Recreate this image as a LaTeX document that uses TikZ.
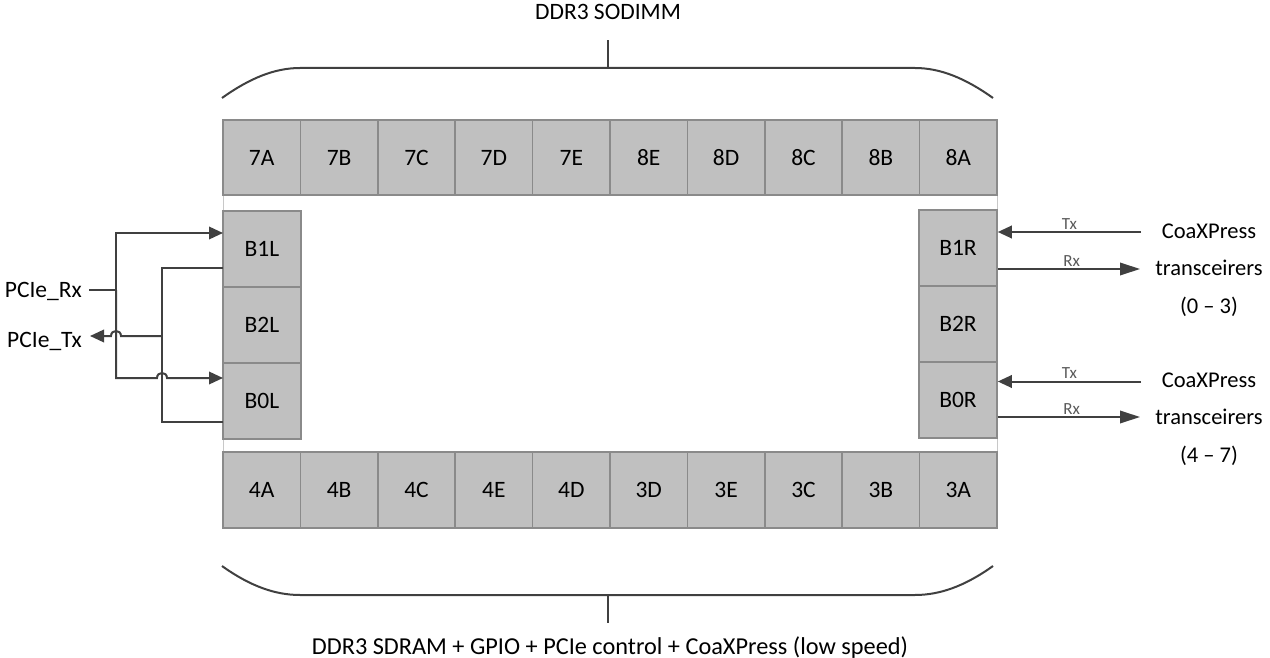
\documentclass[tikz,border=0pt]{standalone}
\usepackage{fontspec}
\setmainfont{Carlito}
\usetikzlibrary{arrows.meta,calc}
\definecolor{boxfill}{HTML}{C0C0C0}
\definecolor{boxline}{HTML}{8A8A8A}
\definecolor{wirecol}{HTML}{404040}
\definecolor{framecol}{HTML}{C8C8C8}
\definecolor{lblcol}{HTML}{595959}
\begin{document}
\begin{tikzpicture}[x=1pt,y=-1pt,
  every node/.style={font=\fontsize{23.5}{28}\selectfont, text=black},
  bank/.style={draw=boxline, fill=boxfill, line width=1.6pt, minimum width=77.4pt, minimum height=75.5pt, inner sep=0pt},
  sidebank/.style={bank, minimum width=78pt, minimum height=76pt},
  wire/.style={draw=wirecol, line width=2pt},
  arr/.style={wire, -{Triangle[length=14pt,width=12.5pt]}},
  longarr/.style={wire, -{Triangle[length=20pt,width=12.5pt]}},
  small/.style={font=\fontsize{17}{19}\selectfont, text=lblcol, inner sep=0pt},
  lbl/.style={inner sep=0pt},
  cxp/.style={align=center, inner sep=0pt, font=\fontsize{22.5}{37.5}\selectfont}
]
\useasboundingbox (0,0) rectangle (1270,658);
% frame
\draw[framecol, line width=1pt, fill=white] (223,120) rectangle (997,528);
% top row
\foreach \l [count=\i from 0] in {7A,7B,7C,7D,7E,8E,8D,8C,8B,8A}
  \node[bank] (t\l) at ({223+77.4*(\i+0.5)},157.5) {\l};
% bottom row
\foreach \l [count=\i from 0] in {4A,4B,4C,4E,4D,3D,3E,3C,3B,3A}
  \node[bank] (b\l) at ({223+77.4*(\i+0.5)},490) {\l};
% side columns
\node[sidebank] (b1l) at (262,249) {B1L};
\node[sidebank] (b2l) at (262,325) {B2L};
\node[sidebank] (b0l) at (262,401) {B0L};
\node[sidebank] (b1r) at (958,248) {B1R};
\node[sidebank] (b2r) at (958,324) {B2R};
\node[sidebank] (b0r) at (958,400) {B0R};
% braces and captions
\node[lbl, anchor=base] (topcap) at (608,20) {DDR3 SODIMM};
\node[lbl, anchor=base, font=\fontsize{24.3}{28}\selectfont] (botcap) at (610,654) {DDR3 SDRAM + GPIO + PCIe control + CoaXPress (low speed)};
\coordinate (topmid) at (608,68);
\coordinate (topend) at (608,40);
\coordinate (botmid) at (608,595);
\coordinate (botend) at (608,623);
\draw[wire] (222,98) .. controls (250,78) and (275,68) .. (300,68) -- (915,68) .. controls (940,68) and (965,78) .. (993,98);
\draw[wire] (topmid) -- (topend);
\draw[wire] (222,566) .. controls (250,586) and (275,595) .. (300,595) -- (915,595) .. controls (940,595) and (965,586) .. (993,566);
\draw[wire] (botmid) -- (botend);
% left side PCIe
\node[lbl, anchor=base east] (rx) at (82,297.5) {PCIe\_Rx};
\node[lbl, anchor=base east] (tx) at (82,347.5) {PCIe\_Tx};
\coordinate (jr) at (116,290);
\coordinate (b1in) at (223,233);
\coordinate (b0in) at (223,378);
\coordinate (b1out) at (223,268);
\coordinate (b0out) at (223,422);
\coordinate (jt) at (162,336);
\draw[wire] ($(jr -| rx.east)+(7,0)$) -- (jr);
\draw[arr] (jr) |- (b1in);
\draw[arr] (jr) -- (116,378) -- (157,378) .. controls (157,371.3) and (167,371.3) .. (167,378) -- (b0in);
\draw[wire] (b1out) -| (jt) |- (b0out);
\draw[arr] (jt) -- (121,336) .. controls (121,329.3) and (111,329.3) .. (111,336) -- ($(jt -| tx.east)+(8,0)$);
% right side CoaXPress
\node[cxp] (cxp1) at (1209,270) {CoaXPress\\transceirers\\(0 – 3)};
\node[cxp] (cxp2) at (1209,419) {CoaXPress\\transceirers\\(4 – 7)};
\coordinate (c1tx) at (1141,232);
\coordinate (c1rx) at (1140,269);
\coordinate (c2tx) at (1141,381.5);
\coordinate (c2rx) at (1140,417);
\draw[arr] (c1tx) -- (b1r.east |- c1tx) node[small, midway, yshift=8pt] {Tx};
\draw[longarr] (b1r.east |- c1rx) -- (c1rx) node[small, pos=0.52, yshift=8pt] {Rx};
\draw[arr] (c2tx) -- (b0r.east |- c2tx) node[small, midway, yshift=8pt] {Tx};
\draw[longarr] (b0r.east |- c2rx) -- (c2rx) node[small, pos=0.52, yshift=8pt] {Rx};
\end{tikzpicture}
\end{document}
